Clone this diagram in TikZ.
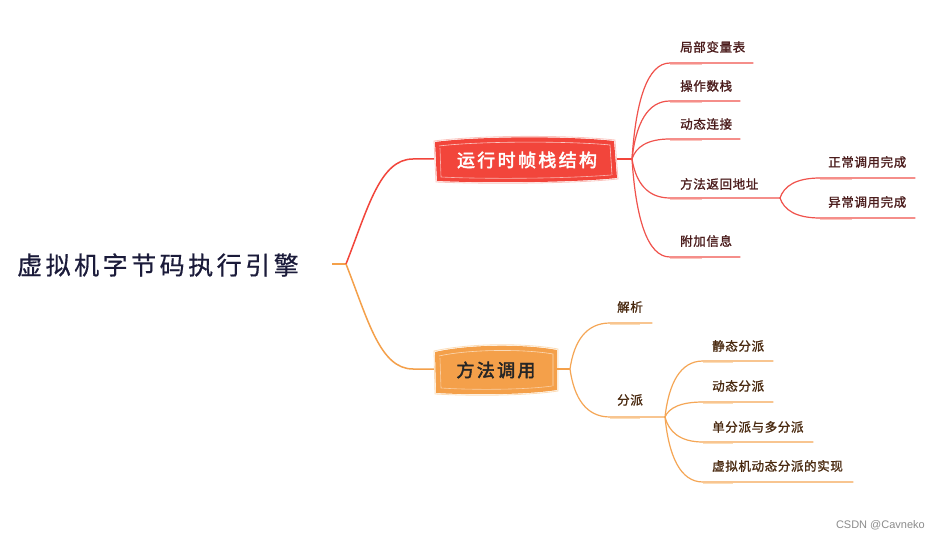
\documentclass[tikz,border=0pt]{standalone}
\usepackage{fontspec}
\usetikzlibrary{calc}
\newfontfamily\cjkroot{Noto Sans CJK SC}[LetterSpace=14,FakeBold=0.6]
\newfontfamily\cjkbig{Noto Sans CJK SC}[LetterSpace=13,FakeBold=2.5]
\newfontfamily\cjksmall{Noto Sans CJK SC}[LetterSpace=5,FakeBold=1.3]
\newfontfamily\latinf{Liberation Sans}
\definecolor{rootc}{HTML}{1B1B3A}
\definecolor{redc}{HTML}{F2453B}
\definecolor{redl}{HTML}{F0524C}
\definecolor{redt}{HTML}{4B1C1C}
\definecolor{redpale}{HTML}{FBC4BE}
\definecolor{orc}{HTML}{F4A04A}
\definecolor{orl}{HTML}{F5A655}
\definecolor{ort}{HTML}{4A2A10}
\definecolor{orpale}{HTML}{FCDDB8}
\tikzset{
  mm/.style={to path={let \p1=(\tikztostart), \p2=(\tikztotarget) in
    .. controls ({\x1+0.1*(\x2-\x1)},{\y1+0.6*(\y2-\y1)}) and ({\x1+0.4*(\x2-\x1)},{\y2}) .. (\tikztotarget)}},
  redline/.style={draw=redl, line width=1.2pt, line cap=round},
  orline/.style={draw=orl, line width=1.2pt, line cap=round},
  redlbl/.style={anchor=west, inner sep=0pt, text=redt, font=\cjksmall\fontsize{12.5}{14}\selectfont},
  orlbl/.style={anchor=west, inner sep=0pt, text=ort, font=\cjksmall\fontsize{12.5}{14}\selectfont},
}
\begin{document}
\begin{tikzpicture}[x=1pt,y=-1pt]
\useasboundingbox[fill=white] (0,0) rectangle (940,540);

% root
\node[anchor=west, inner sep=0pt, text=rootc, font=\cjkroot\fontsize{25}{27}\selectfont] (root) at (17,265) {虚拟机字节码执行引擎};
\coordinate (rj0) at (332,264);
\coordinate (rj) at (346,264);
\draw[draw=orc, line width=1.4pt] (rj0) -- (rj);

% main branches
\coordinate (redLh) at (413,159);
\coordinate (redL) at (434,159);
\coordinate (orLh) at (413,369);
\coordinate (orL) at (434,369);
\draw[draw=redc, line width=1.5pt] (rj) .. controls (368,208) and (380,159) .. (redLh) -- (redL);
\draw[draw=orc, line width=1.5pt] (rj) .. controls (368,320) and (380,369) .. (orLh) -- (orL);

% red box
\fill[redc] (435,142) .. controls (480,136) and (570,136) .. (614,141) -- (617,178) .. controls (570,183) and (480,183) .. (437,181) -- cycle;
\draw[draw=redpale, line width=0.8pt] (434,141) .. controls (480,135) and (570,135) .. (615,140) -- (618,179) .. controls (570,184) and (480,184) .. (436,182) -- cycle;
\draw[draw=white, opacity=0.7, line width=0.6pt] (439,146) .. controls (480,141) and (570,141) .. (610,145) -- (612,175);
\draw[draw=white, opacity=0.6, line width=0.6pt] (440,148) -- (441,177) .. controls (480,179) and (560,179) .. (611,175);
\node[text=white, inner sep=0pt, font=\cjkbig\fontsize{18}{20}\selectfont] (frame) at (527,160) {运行时帧栈结构};

% orange box
\fill[orc] (435,352) .. controls (470,344) and (525,344) .. (557,350) -- (557,390) .. controls (525,395) and (470,395) .. (436,393) -- cycle;
\draw[draw=orpale, line width=0.8pt] (434,351) .. controls (470,343) and (525,343) .. (558,349) -- (558,391) .. controls (525,396) and (470,396) .. (435,394) -- cycle;
\draw[draw=white, opacity=0.6, line width=0.6pt] (439,356) .. controls (470,349) and (525,349) .. (553,354) -- (553,386);
\draw[draw=white, opacity=0.5, line width=0.6pt] (440,358) -- (441,388) .. controls (470,390) and (525,390) .. (552,386);
\node[text=black!85, inner sep=0pt, font=\cjkbig\fontsize{18}{20}\selectfont] (call) at (496,370) {方法调用};

% red children
\coordinate (rb0) at (617,159);
\coordinate (rb) at (632,159);
\draw[draw=redc, line width=1.2pt] (rb0) -- (rb);
\coordinate (r1s) at (670,63);  \coordinate (r1e) at (753,63);
\coordinate (r2s) at (670,101); \coordinate (r2e) at (740,101);
\coordinate (r3s) at (670,139); \coordinate (r3e) at (740,139);
\coordinate (r4s) at (670,198); \coordinate (r4e) at (780,198);
\coordinate (r5s) at (670,257); \coordinate (r5e) at (740,257);
\foreach \i in {1,...,5}{
  \draw[redline] (rb) to[mm] (r\i s) -- (r\i e);
  \draw[draw=redpale, line width=0.6pt] ($(r\i s)+(0,1.5)$) -- ++(32,0);
}
\node[redlbl] (l1) at (680,47) {局部变量表};
\node[redlbl] (l2) at (680,86) {操作数栈};
\node[redlbl] (l3) at (680,124) {动态连接};
\node[redlbl] (l4) at (680,184) {方法返回地址};
\node[redlbl] (l5) at (680,241) {附加信息};

% return address sub-branch
\coordinate (s1s) at (820,178); \coordinate (s1e) at (915,178);
\coordinate (s2s) at (820,218); \coordinate (s2e) at (915,218);
\draw[redline] (r4e) to[mm] (s1s) -- (s1e);
\draw[redline] (r4e) to[mm] (s2s) -- (s2e);
\draw[draw=redpale, line width=0.6pt] ($(s1s)+(0,1.5)$) -- ++(32,0);
\draw[draw=redpale, line width=0.6pt] ($(s2s)+(0,1.5)$) -- ++(32,0);
\node[redlbl] (m1) at (828,162) {正常调用完成};
\node[redlbl] (m2) at (828,202) {异常调用完成};

% orange children
\coordinate (ob0) at (557,369);
\coordinate (ob) at (570,369);
\draw[draw=orc, line width=1.2pt] (ob0) -- (ob);
\coordinate (o1s) at (610,323); \coordinate (o1e) at (652,323);
\coordinate (o2s) at (610,417); \coordinate (o2e) at (665,417);
\draw[orline] (ob) to[mm] (o1s) -- (o1e);
\draw[orline] (ob) to[mm] (o2s) -- (o2e);
\draw[draw=orpale, line width=0.6pt] ($(o1s)+(0,1.5)$) -- ++(30,0);
\draw[draw=orpale, line width=0.6pt] ($(o2s)+(0,1.5)$) -- ++(30,0);
\node[orlbl] (p1) at (617,307) {解析};
\node[orlbl] (p2) at (617,400) {分派};

% dispatch sub-branch
\coordinate (d1s) at (703,361); \coordinate (d1e) at (773,361);
\coordinate (d2s) at (703,402); \coordinate (d2e) at (773,402);
\coordinate (d3s) at (703,442); \coordinate (d3e) at (813,442);
\coordinate (d4s) at (703,482); \coordinate (d4e) at (853,482);
\foreach \i in {1,...,4}{
  \draw[orline] (o2e) to[mm] (d\i s) -- (d\i e);
  \draw[draw=orpale, line width=0.6pt] ($(d\i s)+(0,1.5)$) -- ++(30,0);
}
\node[orlbl] (q1) at (712,346) {静态分派};
\node[orlbl] (q2) at (712,386) {动态分派};
\node[orlbl] (q3) at (712,427) {单分派与多分派};
\node[orlbl] (q4) at (712,466) {虚拟机动态分派的实现};

% watermark
\node[anchor=east, inner sep=0pt, text=black!45, font=\latinf\fontsize{11}{13}\selectfont] (wm) at (925,525) {CSDN @Cavneko};
\end{tikzpicture}
\end{document}
